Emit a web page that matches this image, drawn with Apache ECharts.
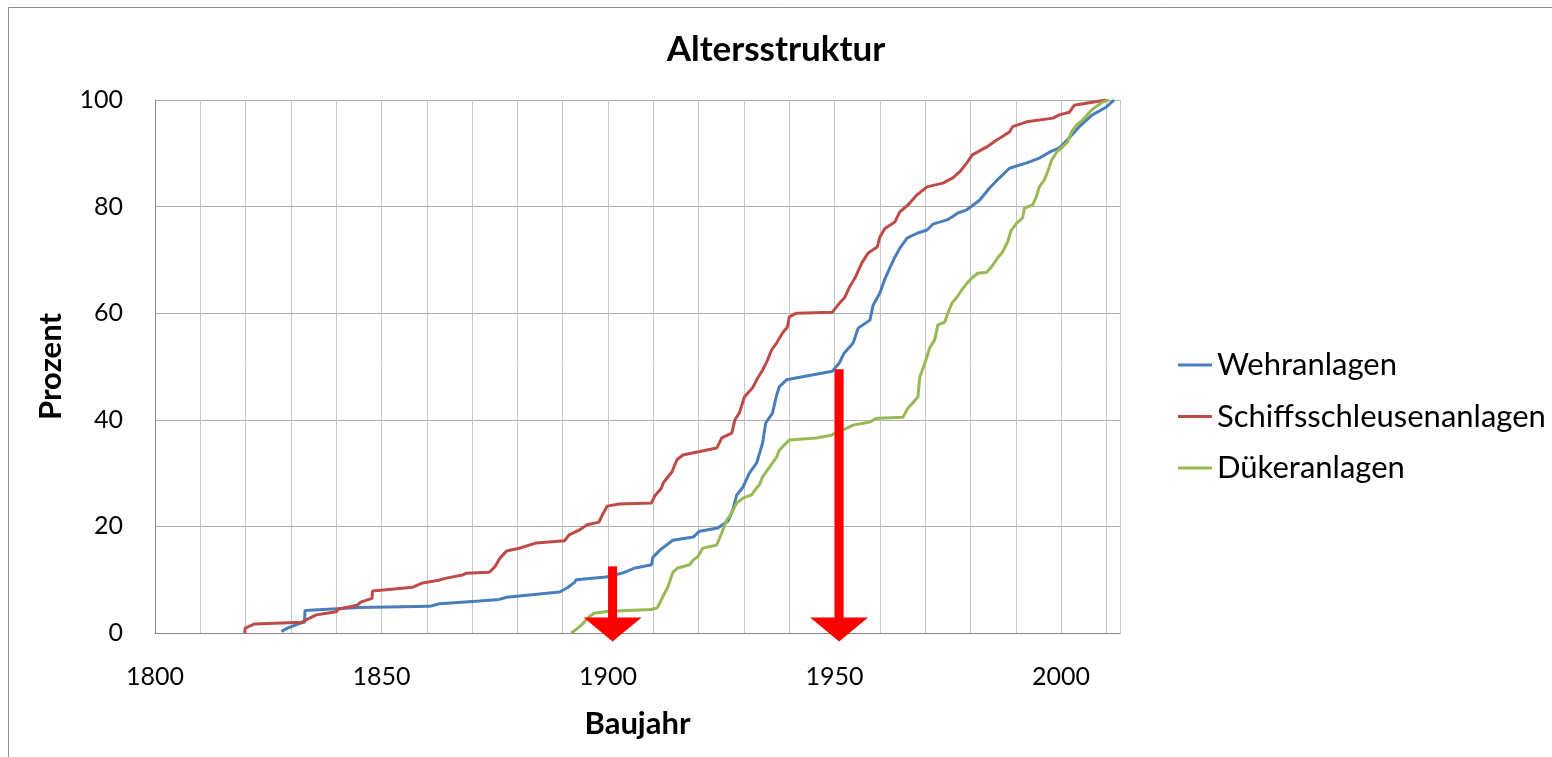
<!DOCTYPE html>
<html>
<head>
<meta charset="utf-8">
<script src="https://cdn.jsdelivr.net/npm/echarts@6/dist/echarts.min.js"></script>
<style>
html,body{margin:0;padding:0;background:#fff;}
#chart{width:1552px;height:757px;}
</style>
</head>
<body>
<div id="chart"></div>
<script>
// ---- data (Baujahr, Prozent) ----
const seriesNames = ['Wehranlagen', 'Schiffsschleusenanlagen', 'Dükeranlagen'];

const wehranlagen = [
  [1827.9,0.3],[1829.5,1.0],[1829.9,1.3],[1832.3,1.9],[1833.0,2.0],[1833.1,4.2],[1845,4.8],[1860.6,5.0],
  [1862.8,5.5],[1871.6,6.0],[1876,6.3],[1877.6,6.7],[1889.3,7.7],[1891,8.5],[1892.6,9.5],[1893,10],
  [1899.6,10.5],[1903,11.2],[1906,12.2],[1909.6,12.8],[1909.9,14.2],[1911.5,15.6],[1914.3,17.4],
  [1918.8,18],[1920.2,19.1],[1924.2,19.7],[1926.5,21],[1927.5,23],[1928.4,25.9],[1929.8,27.4],
  [1931.2,30],[1932.8,31.9],[1934.1,35.6],[1934.8,39.4],[1936.3,41.3],[1937.1,44.3],[1937.8,46.2],
  [1939.4,47.5],[1943.8,48.2],[1949.5,49.1],[1951,50.6],[1952.1,52.5],[1954.1,54.4],[1955.2,57.2],
  [1957.8,58.7],[1958.5,61.5],[1960,63.8],[1961,66.2],[1962.2,68.5],[1963.3,70.5],[1964.4,72.2],
  [1966,74.1],[1968.2,75],[1970.4,75.6],[1971.7,76.7],[1974.8,77.5],[1976,78.1],[1977.2,78.8],
  [1979.2,79.4],[1982,81.2],[1984.2,83.5],[1986.4,85.4],[1988.6,87.2],[1992.4,88.2],[1995.2,89.1],
  [1997.4,90.2],[1999.6,91],[2001.8,92.9],[2004,95],[2006.9,97.2],[2010,98.7],[2011.7,100]
];

const schiffsschleusenanlagen = [
  [1819.8,0],[1819.9,0.9],[1822,1.7],[1832.4,2.0],[1833.7,2.6],[1835.6,3.4],[1840,4.0],[1840.6,4.5],
  [1844.6,5.2],[1845.4,5.8],[1847.9,6.5],[1848,7.9],[1856.9,8.6],[1859.1,9.4],[1862.6,9.9],[1864.3,10.3],
  [1867.9,10.9],[1868.6,11.2],[1873.8,11.4],[1875,12.4],[1876.1,14],[1877.6,15.4],[1880.4,15.9],
  [1884.2,16.9],[1890.4,17.3],[1891.4,18.4],[1893.6,19.3],[1895.4,20.3],[1898,20.8],[1898.7,22.1],
  [1899.8,23.8],[1902.4,24.2],[1909.6,24.4],[1910.3,25.7],[1911.8,27.2],[1912.2,28.2],[1914.1,30.2],
  [1915.2,32.5],[1916.5,33.4],[1924,34.7],[1925.1,36.6],[1927.3,37.5],[1928,40],[1929,41.3],
  [1930.1,44.3],[1931.9,46],[1933,47.8],[1934.1,49.3],[1935.2,51.2],[1936.1,53.1],[1937.2,54.4],
  [1938.5,56.3],[1939.6,57.4],[1940,59.3],[1941.6,60],[1949.5,60.2],[1951.1,61.9],[1952.2,62.9],
  [1953.3,64.9],[1954.5,66.6],[1956,69.4],[1957.4,71.3],[1959.4,72.4],[1960,74.3],[1961.1,75.9],
  [1963.3,77.1],[1964.4,79],[1966.2,80.3],[1968.2,82.2],[1970.4,83.7],[1973.9,84.4],[1976.1,85.4],
  [1977.6,86.5],[1979.2,88.2],[1980.4,89.7],[1983.6,91.2],[1985.8,92.5],[1988.6,94],[1989.3,95],
  [1992.4,95.9],[1998.2,96.6],[1999.6,97.2],[2001.8,97.7],[2002.9,99],[2005.5,99.4],[2010,100]
];

const duekeranlagen = [
  [1891.9,0],[1893.6,1.1],[1894.8,2.1],[1895.8,3.0],[1896.9,3.7],[1900.2,4.1],[1909.5,4.4],[1910.8,4.7],
  [1911.4,5.6],[1912.5,7.5],[1913.2,8.6],[1914.3,11.4],[1915.4,12.2],[1918,12.8],[1918.8,13.7],
  [1919.8,14.3],[1920.9,15.9],[1924,16.5],[1925.1,18.8],[1926.2,21.2],[1927.3,22.5],[1928.4,24.4],
  [1929.8,25.3],[1931.7,25.9],[1932.4,26.8],[1933.4,27.8],[1934.1,29.3],[1935.2,30.6],[1936.3,31.9],
  [1937.2,33],[1937.8,34.3],[1938.9,35.3],[1940,36.2],[1946,36.6],[1949.3,37.1],[1950,37.5],
  [1951.9,38.1],[1954.1,39],[1957.8,39.6],[1959.4,40.3],[1965.1,40.5],[1966.2,42.2],[1967.3,43.2],
  [1968.4,44.3],[1968.8,48],[1970,50.8],[1971,53.5],[1972.1,55],[1972.8,57.8],[1974.3,58.3],
  [1975,60],[1975.9,61.9],[1977,63],[1978.1,64.4],[1979.2,65.6],[1980.3,66.6],[1981.6,67.5],
  [1983.6,67.7],[1984.9,69],[1986,70.4],[1987.1,71.5],[1988.2,73.4],[1989,75.6],[1990.2,76.9],
  [1991.5,77.9],[1991.9,79.7],[1993.7,80.3],[1994.5,81.8],[1995.2,83.7],[1996.3,85],[1997,86.5],
  [1997.9,88.7],[1999,90.2],[2000.3,91.2],[2001.4,92.1],[2002.3,94],[2003.4,95.3],[2004.7,96.2],
  [2006.7,98.1],[2009.1,99.6],[2010.6,100]
];

// red arrow annotations: [year, top %, tip %]
const arrowYears = [1901, 1951];
const arrowTops = [12.5, 49.5];
const arrowTips = [-1.6, -1.6];

const xLabelYears = [1800, 1850, 1900, 1950, 2000];

// ---- chart ----
const FONT = 'Lato, "Open Sans", sans-serif';
const colors = ['#4A7EBB', '#BE4B48', '#98B954'];
const chart = echarts.init(document.getElementById('chart'));

const arrowData = arrowYears.map((y, i) => [y, arrowTops[i], arrowTips[i]]);

chart.setOption({
  animation: false,
  backgroundColor: '#ffffff',
  color: colors,
  textStyle: { fontFamily: FONT, color: '#000' },
  title: {
    text: 'Altersstruktur',
    left: 'center',
    top: 27,
    textStyle: { fontFamily: FONT, fontSize: 35, fontWeight: 'bold', color: '#000' }
  },
  graphic: [{
    type: 'rect',
    shape: { x: 8.5, y: 7.5, width: 1560, height: 760 },
    style: { fill: null, stroke: '#8C8C8C', lineWidth: 1 },
    silent: true
  }],
  legend: {
    orient: 'vertical',
    left: 1178,
    top: 347,
    padding: 0,
    icon: 'rect',
    itemWidth: 34,
    itemHeight: 3,
    itemGap: 15.5,
    data: seriesNames,
    textStyle: { fontFamily: FONT, fontSize: 31, color: '#000', lineHeight: 36, padding: [0, 0, 0, 0] }
  },
  grid: { left: 155, top: 100, right: 432, bottom: 124 },
  xAxis: {
    type: 'value',
    min: 1800,
    max: 2013,
    interval: 10,
    name: 'Baujahr',
    nameLocation: 'middle',
    nameGap: 75,
    nameTextStyle: { fontFamily: FONT, fontSize: 31, fontWeight: 'bold', color: '#000' },
    axisLine: { show: true, lineStyle: { color: '#868686', width: 1 } },
    axisTick: { show: false },
    axisLabel: {
      fontFamily: FONT, fontSize: 25, color: '#000', margin: 31,
      formatter: v => (xLabelYears.indexOf(v) >= 0 ? String(v) : '')
    },
    splitLine: { show: true, lineStyle: { color: '#C6C6C6', width: 1 } }
  },
  yAxis: {
    type: 'value',
    min: 0,
    max: 100,
    interval: 20,
    name: 'Prozent',
    nameLocation: 'middle',
    nameGap: 89,
    nameRotate: 90,
    nameTextStyle: { fontFamily: FONT, fontSize: 31, fontWeight: 'bold', color: '#000' },
    axisLine: { show: true, lineStyle: { color: '#868686', width: 1 } },
    axisTick: { show: false },
    axisLabel: { fontFamily: FONT, fontSize: 25, color: '#000', margin: 32 },
    splitLine: { show: true, lineStyle: { color: '#ADADAD', width: 1 } }
  },
  series: [
    { name: seriesNames[0], type: 'line', data: wehranlagen, showSymbol: false, symbol: 'none',
      lineStyle: { width: 3, color: colors[0] }, itemStyle: { color: colors[0] } },
    { name: seriesNames[1], type: 'line', data: schiffsschleusenanlagen, showSymbol: false, symbol: 'none',
      lineStyle: { width: 3, color: colors[1] }, itemStyle: { color: colors[1] } },
    { name: seriesNames[2], type: 'line', data: duekeranlagen, showSymbol: false, symbol: 'none',
      lineStyle: { width: 3, color: colors[2] }, itemStyle: { color: colors[2] } },
    {
      type: 'custom',
      clip: false,
      silent: true,
      z: 10,
      data: arrowData,
      renderItem: function (params, api) {
        const x = api.value(0), top = api.value(1), tip = api.value(2);
        const p0 = api.coord([x, top]);
        const p1 = api.coord([x, tip]);
        const headH = 24, headW = 58, shaftW = 9;
        return {
          type: 'group',
          children: [
            { type: 'rect',
              shape: { x: p0[0] - shaftW / 2, y: p0[1], width: shaftW, height: (p1[1] - headH) - p0[1] + 1 },
              style: { fill: '#FF0000' } },
            { type: 'polygon',
              shape: { points: [[p1[0] - headW / 2, p1[1] - headH], [p1[0] + headW / 2, p1[1] - headH], [p1[0], p1[1]]] },
              style: { fill: '#FF0000' } }
          ]
        };
      }
    }
  ]
});
</script>
</body>
</html>
